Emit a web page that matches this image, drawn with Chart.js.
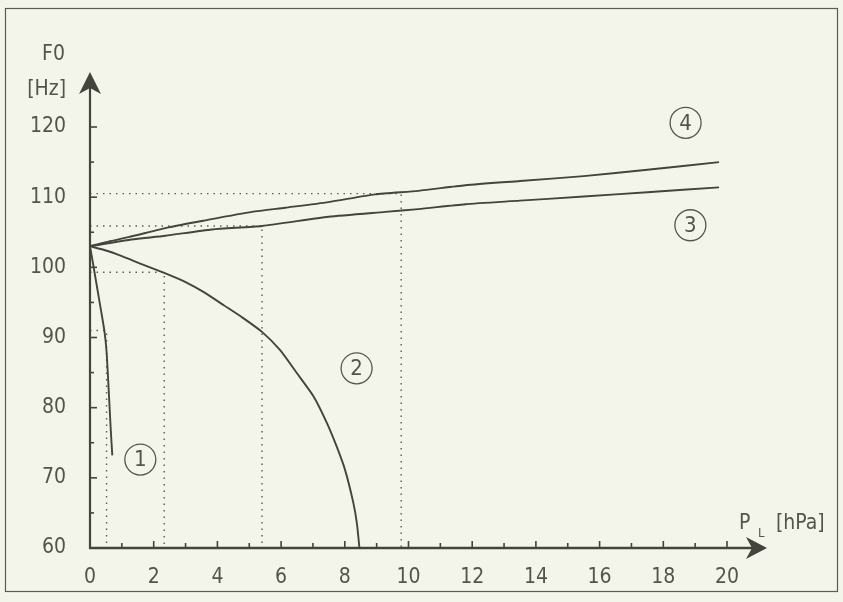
<!DOCTYPE html>
<html>
<head>
<meta charset="utf-8">
<title>F0 vs. lung pressure</title>
<script src="https://cdn.jsdelivr.net/npm/chart.js@4.4.1/dist/chart.umd.min.js"></script>
<style>
  html, body { margin: 0; padding: 0; background: #f3f5ea; }
  #wrap { width: 843px; height: 602px; position: relative; }
</style>
</head>
<body>
<div id="wrap"><canvas id="f0Chart"></canvas></div>
<script>
// ---- data: subglottal pressure P_L [hPa] vs. F0 [Hz] ----
const curve1X = [0, 0.1, 0.22, 0.34, 0.45, 0.52, 0.57, 0.61, 0.65, 0.70];
const curve1Y = [103.0, 100.4, 97.2, 94.0, 91.0, 88.0, 84.0, 80.5, 77.0, 73.2];

const curve2X = [0, 0.5, 1.0, 1.6, 2.33, 3.0, 3.6, 4.2, 4.8, 5.4, 5.97, 6.5, 7.02, 7.44, 7.75, 8.01, 8.27, 8.38, 8.46];
const curve2Y = [103.0, 102.4, 101.6, 100.5, 99.2, 97.9, 96.4, 94.6, 92.8, 90.8, 88.2, 84.9, 81.6, 77.8, 74.4, 71.1, 66.4, 63.5, 60.0];

const curve3X = [0, 1.21, 2.37, 3.83, 5.40, 7.49, 9.27, 10.31, 11.78, 13.5, 15.5, 17.5, 19.75];
const curve3Y = [103.0, 103.9, 104.5, 105.4, 105.9, 107.2, 107.9, 108.3, 109.0, 109.5, 110.1, 110.7, 111.4];

const curve4X = [0, 0.5, 1.21, 2.47, 3.62, 5.08, 6.13, 7.49, 8.95, 10.31, 11.78, 13.5, 15.5, 17.5, 19.75];
const curve4Y = [103.0, 103.6, 104.3, 105.7, 106.7, 107.9, 108.5, 109.3, 110.4, 110.9, 111.7, 112.3, 113.0, 113.9, 115.0];

// dotted reading lines: (0, level) -> (p, level) -> (p, 60)
const guideP = [0.52, 2.33, 5.40, 9.77];
const guideF0 = [91.0, 99.3, 105.9, 110.5];

// circled curve numbers
const markText = ["1", "2", "3", "4"];
const markX = [1.58, 8.37, 18.85, 18.7];
const markY = [72.6, 85.6, 106.0, 120.6];

const xMin = 0, xMax = 20, xStep = 1;
const yMin = 60, yMax = 120, yStep = 5;

const INK = "#43443d";
const TEXT = "#53544c";
const FONT = "'Liberation Sans Narrow', 'DejaVu Sans Condensed', 'Liberation Sans', sans-serif";

function pts(xs, ys) {
  return xs.map((x, i) => ({ x: x, y: ys[i] }));
}

const curveStyle = {
  borderColor: INK,
  borderWidth: 1.9,
  pointRadius: 0,
  tension: 0.2,
  fill: false
};

const datasets = [
  { label: "1", data: pts(curve1X, curve1Y), ...curveStyle },
  { label: "2", data: pts(curve2X, curve2Y), ...curveStyle },
  { label: "3", data: pts(curve3X, curve3Y), ...curveStyle },
  { label: "4", data: pts(curve4X, curve4Y), ...curveStyle }
];

guideP.forEach((p, i) => {
  datasets.push({
    label: "guide" + i,
    data: [{ x: 0, y: guideF0[i] }, { x: p, y: guideF0[i] }, { x: p, y: yMin }],
    borderColor: "#5b5c54",
    borderWidth: 1.4,
    borderDash: [1.5, 5],
    pointRadius: 0,
    tension: 0,
    fill: false
  });
});

// axes with arrows, inward tick marks, titles, circled numbers, frame
const decorPlugin = {
  id: "decor",
  afterDraw(chart) {
    const ctx = chart.ctx;
    const xs = chart.scales.x;
    const ys = chart.scales.y;
    const x0 = xs.getPixelForValue(xMin);
    const y0 = ys.getPixelForValue(yMin);
    const xEnd = xs.getPixelForValue(xMax) + 40;
    const yEnd = ys.getPixelForValue(yMax) - 55;

    ctx.save();

    // outer frame
    ctx.strokeStyle = "#5a5b53";
    ctx.lineWidth = 1.2;
    ctx.strokeRect(5.5, 8.5, 832, 583);

    ctx.strokeStyle = INK;
    ctx.fillStyle = INK;

    // x axis
    ctx.lineWidth = 2.6;
    ctx.beginPath();
    ctx.moveTo(x0 - 1, y0);
    ctx.lineTo(xEnd - 14, y0);
    ctx.stroke();
    ctx.beginPath();
    ctx.moveTo(xEnd, y0);
    ctx.lineTo(xEnd - 21, y0 - 11);
    ctx.lineTo(xEnd - 15, y0);
    ctx.lineTo(xEnd - 21, y0 + 11);
    ctx.closePath();
    ctx.fill();

    // y axis
    ctx.lineWidth = 2.2;
    ctx.beginPath();
    ctx.moveTo(x0, y0 + 1);
    ctx.lineTo(x0, yEnd + 14);
    ctx.stroke();
    ctx.beginPath();
    ctx.moveTo(x0, yEnd);
    ctx.lineTo(x0 - 11, yEnd + 22);
    ctx.lineTo(x0, yEnd + 16);
    ctx.lineTo(x0 + 11, yEnd + 22);
    ctx.closePath();
    ctx.fill();

    // tick marks pointing into the plot
    ctx.lineWidth = 1.6;
    xs.ticks.forEach(t => {
      if (t.value === xMin) return;
      const px = xs.getPixelForValue(t.value);
      const len = t.value % 2 === 0 ? 7 : 5;
      ctx.beginPath();
      ctx.moveTo(px, y0);
      ctx.lineTo(px, y0 - len);
      ctx.stroke();
    });
    ys.ticks.forEach(t => {
      if (t.value === yMin) return;
      const py = ys.getPixelForValue(t.value);
      const len = t.value % 10 === 0 ? 7 : 4;
      ctx.beginPath();
      ctx.moveTo(x0, py);
      ctx.lineTo(x0 + len, py);
      ctx.stroke();
    });

    // axis titles
    ctx.fillStyle = TEXT;
    ctx.font = "21px " + FONT;
    ctx.textBaseline = "middle";
    ctx.textAlign = "right";
    ctx.fillText("F0", 65, 55);
    ctx.fillText("[Hz]", 66, 90);
    ctx.textAlign = "left";
    ctx.fillText("P", 739, 524);
    ctx.fillText("[hPa]", 776, 524);
    ctx.font = "13px " + FONT;
    ctx.fillText("L", 758, 534);

    // circled curve numbers
    ctx.lineWidth = 1.3;
    ctx.strokeStyle = "#55564e";
    markText.forEach((txt, i) => {
      const px = xs.getPixelForValue(markX[i]);
      const py = ys.getPixelForValue(markY[i]);
      ctx.beginPath();
      ctx.arc(px, py, 15.5, 0, Math.PI * 2);
      ctx.stroke();
      ctx.font = "22px " + FONT;
      ctx.textAlign = "center";
      ctx.fillText(txt, px, py + 1);
    });

    ctx.restore();
  }
};

new Chart(document.getElementById("f0Chart"), {
  type: "line",
  data: { datasets: datasets },
  options: {
    responsive: true,
    maintainAspectRatio: false,
    animation: false,
    layout: { padding: { left: 0, top: 127, right: 116, bottom: 0 } },
    plugins: {
      legend: { display: false },
      tooltip: { enabled: false }
    },
    scales: {
      x: {
        type: "linear",
        min: xMin,
        max: xMax,
        grid: { display: false, drawTicks: false },
        border: { display: false },
        afterFit(scale) { scale.height = 54; },
        ticks: {
          stepSize: xStep,
          autoSkip: false,
          maxRotation: 0,
          padding: 17,
          color: TEXT,
          font: { size: 21, family: FONT },
          callback: v => (v % 2 === 0 ? String(v) : "")
        }
      },
      y: {
        type: "linear",
        min: yMin,
        max: yMax,
        grid: { display: false, drawTicks: false },
        border: { display: false },
        afterFit(scale) { scale.width = 90; },
        ticks: {
          stepSize: yStep,
          autoSkip: false,
          padding: 24,
          color: TEXT,
          font: { size: 21, family: FONT },
          callback: v => (v % 10 === 0 ? String(v) : "")
        }
      }
    }
  },
  plugins: [decorPlugin]
});
</script>
</body>
</html>
